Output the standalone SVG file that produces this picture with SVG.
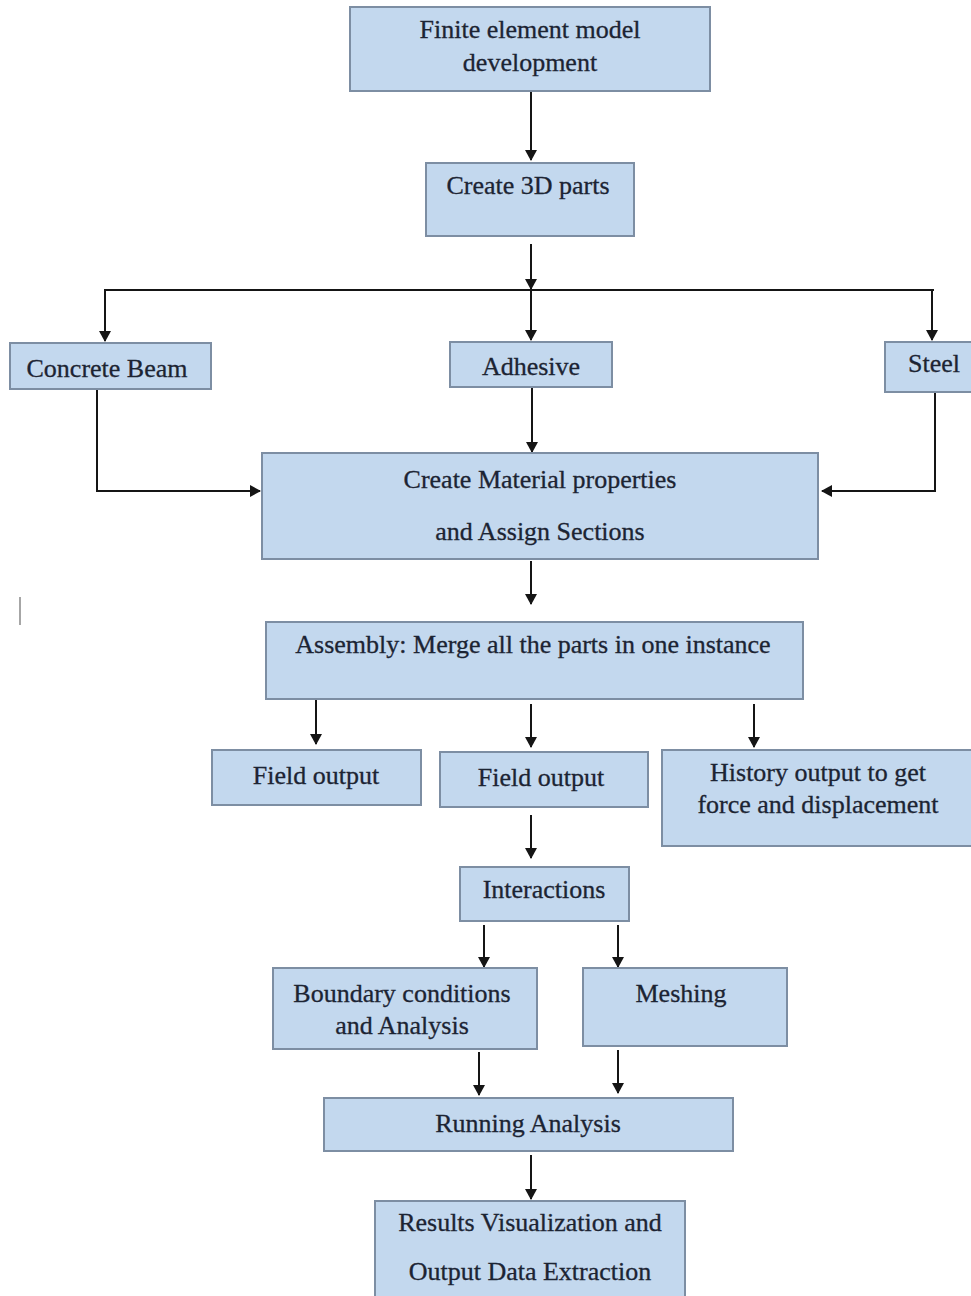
<svg xmlns="http://www.w3.org/2000/svg" width="971" height="1296" viewBox="0 0 971 1296">
<style>
.box{fill:#c3d8ee;stroke:#7d8ea3;stroke-width:2}
.t{font-family:"Liberation Serif","DejaVu Serif",serif;font-size:26px;fill:#1c2433;stroke:#1c2433;stroke-width:0.3;text-anchor:middle}
.c{fill:none;stroke:#151515;stroke-width:2}
</style>
<defs>
<marker id="ah" markerWidth="11" markerHeight="12" refX="10" refY="6" orient="auto" markerUnits="userSpaceOnUse">
<path d="M0,0 L11,6 L0,12 z" fill="#151515"/>
</marker>
</defs>
<rect width="971" height="1296" fill="#ffffff"/>
<g id="connectors">
<line class="c" x1="531" y1="92" x2="531" y2="160" marker-end="url(#ah)"/>
<line class="c" x1="531" y1="244" x2="531" y2="289" marker-end="url(#ah)"/>
<line class="c" x1="104" y1="290" x2="934" y2="290" stroke-width="3"/>
<line class="c" x1="105" y1="291" x2="105" y2="341" marker-end="url(#ah)"/>
<line class="c" x1="531" y1="291" x2="531" y2="340" marker-end="url(#ah)"/>
<line class="c" x1="932" y1="291" x2="932" y2="340" marker-end="url(#ah)"/>
<polyline class="c" points="97,389 97,491 260,491" marker-end="url(#ah)"/>
<line class="c" x1="532" y1="387" x2="532" y2="452" marker-end="url(#ah)"/>
<polyline class="c" points="968,392 935,392 935,491 822,491" marker-end="url(#ah)"/>
<line class="c" x1="531" y1="561" x2="531" y2="604" marker-end="url(#ah)"/>
<line class="c" x1="316" y1="700" x2="316" y2="744" marker-end="url(#ah)"/>
<line class="c" x1="531" y1="704" x2="531" y2="747" marker-end="url(#ah)"/>
<line class="c" x1="754" y1="704" x2="754" y2="747" marker-end="url(#ah)"/>
<line class="c" x1="531" y1="815" x2="531" y2="858" marker-end="url(#ah)"/>
<line class="c" x1="484" y1="925" x2="484" y2="967" marker-end="url(#ah)"/>
<line class="c" x1="618" y1="925" x2="618" y2="967" marker-end="url(#ah)"/>
<line class="c" x1="479" y1="1052" x2="479" y2="1095" marker-end="url(#ah)"/>
<line class="c" x1="618" y1="1050" x2="618" y2="1093" marker-end="url(#ah)"/>
<line class="c" x1="531" y1="1155" x2="531" y2="1199" marker-end="url(#ah)"/>
</g>
<line x1="20" y1="597" x2="20" y2="625" stroke="#888888" stroke-width="1.5"/>
<g id="n-fem"><rect class="box" x="350" y="7" width="360" height="84"/><text class="t" x="530" y="38">Finite element model</text><text class="t" x="530" y="71">development</text></g>
<g id="n-parts"><rect class="box" x="426" y="163" width="208" height="73"/><text class="t" x="528" y="194">Create 3D parts</text></g>
<g id="n-concrete"><rect class="box" x="10" y="343" width="201" height="46"/><text class="t" x="107" y="377">Concrete Beam</text></g>
<g id="n-adhesive"><rect class="box" x="450" y="342" width="162" height="45"/><text class="t" x="531" y="375">Adhesive</text></g>
<g id="n-steel"><rect class="box" x="885" y="342" width="90" height="50"/><text class="t" x="934" y="372">Steel</text></g>
<g id="n-material"><rect class="box" x="262" y="453" width="556" height="106"/><text class="t" x="540" y="488">Create Material properties</text><text class="t" x="540" y="540">and Assign Sections</text></g>
<g id="n-assembly"><rect class="box" x="266" y="622" width="537" height="77"/><text class="t" x="533" y="653">Assembly: Merge all the parts in one instance</text></g>
<g id="n-field1"><rect class="box" x="212" y="750" width="209" height="55"/><text class="t" x="316" y="784">Field output</text></g>
<g id="n-field2"><rect class="box" x="440" y="752" width="208" height="55"/><text class="t" x="541" y="786">Field output</text></g>
<g id="n-history"><rect class="box" x="662" y="750" width="312" height="96"/><text class="t" x="818" y="781">History output to get</text><text class="t" x="818" y="813">force and displacement</text></g>
<g id="n-interactions"><rect class="box" x="460" y="867" width="169" height="54"/><text class="t" x="544" y="898">Interactions</text></g>
<g id="n-boundary"><rect class="box" x="273" y="968" width="264" height="81"/><text class="t" x="402" y="1002">Boundary conditions</text><text class="t" x="402" y="1034">and Analysis</text></g>
<g id="n-meshing"><rect class="box" x="583" y="968" width="204" height="78"/><text class="t" x="681" y="1002">Meshing</text></g>
<g id="n-running"><rect class="box" x="324" y="1098" width="409" height="53"/><text class="t" x="528" y="1132">Running Analysis</text></g>
<g id="n-results"><rect class="box" x="375" y="1201" width="310" height="100"/><text class="t" x="530" y="1231">Results Visualization and</text><text class="t" x="530" y="1280">Output Data Extraction</text></g>
</svg>
